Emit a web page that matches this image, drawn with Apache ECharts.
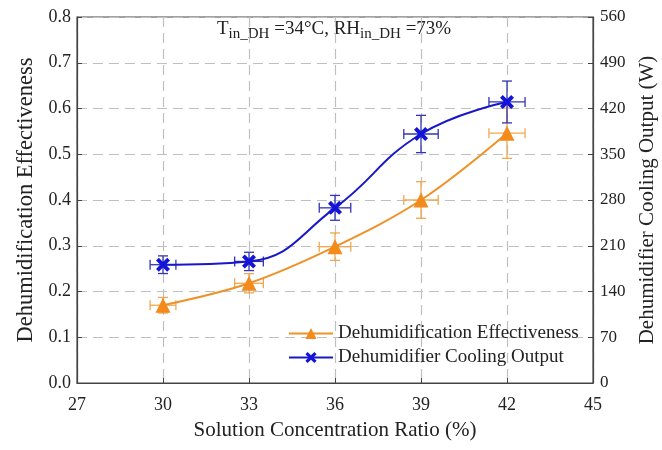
<!DOCTYPE html>
<html>
<head>
<meta charset="utf-8">
<script src="https://cdn.jsdelivr.net/npm/echarts@6/dist/echarts.min.js"></script>
<style>
  html, body { margin: 0; padding: 0; background: #fff; }
  #chart { width: 662px; height: 450px; }
</style>
</head>
<body>
<div id="chart"></div>
<script>
// solution concentration ratio (%)
const conc = [30, 33, 36, 39, 42]
const effectiveness = [0.170, 0.218, 0.298, 0.400, 0.546]
const coolingOutput = [181, 186, 268, 381, 430]
// error bars
const concErr = [0.45, 0.5, 0.55, 0.6, 0.63]
const effErr = [0.017, 0.021, 0.03, 0.04, 0.055]
const coolErr = [13.5, 14, 19, 28.5, 32]

const xTicks = [27, 30, 33, 36, 39, 42, 45]
const leftTicks = [0, 0.1, 0.2, 0.3, 0.4, 0.5, 0.6, 0.7, 0.8]
const rightTicks = [0, 70, 140, 210, 280, 350, 420, 490, 560]

const font = 'Liberation Serif'
const orange = '#F28A1C'
const blue = '#1414D8'
const crossPath = 'path://M0,2 L2,0 L5,3 L8,0 L10,2 L7,5 L10,8 L8,10 L5,7 L2,10 L0,8 L3,5 Z'

function errorBars(color) {
  return function (params, api) {
    const x = api.value(0)
    const y = api.value(1)
    const xe = api.value(2)
    const ye = api.value(3)
    const l = api.coord([x - xe, y])
    const r = api.coord([x + xe, y])
    const t = api.coord([x, y + ye])
    const b = api.coord([x, y - ye])
    const c = 5
    const style = { stroke: color, lineWidth: 1.3, fill: null }
    const seg = (x1, y1, x2, y2) => ({ type: 'line', shape: { x1, y1, x2, y2 }, style })
    return {
      type: 'group',
      children: [
        seg(l[0], l[1], r[0], r[1]),
        seg(t[0], t[1], b[0], b[1]),
        seg(l[0], l[1] - c, l[0], l[1] + c),
        seg(r[0], r[1] - c, r[0], r[1] + c),
        seg(t[0] - c, t[1], t[0] + c, t[1]),
        seg(b[0] - c, b[1], b[0] + c, b[1])
      ]
    }
  }
}

const chart = echarts.init(document.getElementById('chart'))
chart.setOption({
  animation: false,
  backgroundColor: '#fff',
  textStyle: { fontFamily: font },
  grid: {
    left: 77, right: 69, top: 17, bottom: 67,
    outerBoundsMode: 'none',
    containLabel: false,
    show: true, borderColor: '#444', borderWidth: 1.2, backgroundColor: 'transparent'
  },
  graphic: [{
    type: 'text',
    left: 217,
    top: 20,
    style: {
      text: 'T{s|in_DH} =34°C, RH{s|in_DH} =73%',
      fontFamily: font,
      fontSize: 19,
      fill: '#222',
      rich: {
        s: { fontFamily: font, fontSize: 15, fill: '#222', padding: [10, 0, 0, 0] }
      }
    }
  }],
  legend: {
    data: ['Dehumidification Effectiveness', 'Dehumidifier Cooling Output'],
    orient: 'vertical',
    left: 283,
    top: 319,
    itemWidth: 44,
    itemHeight: 14,
    itemGap: 5,
    textStyle: { fontFamily: font, fontSize: 19, color: '#222' }
  },
  xAxis: {
    type: 'value',
    min: 27, max: 45, interval: 3,
    name: 'Solution Concentration Ratio (%)',
    nameLocation: 'middle',
    nameGap: 37,
    nameTextStyle: { fontFamily: font, fontSize: 21, color: '#222' },
    axisLine: { lineStyle: { color: '#444', width: 1.2 } },
    axisTick: { inside: true, length: 5, lineStyle: { color: '#444' } },
    axisLabel: { fontFamily: font, fontSize: 18, color: '#222', margin: 13,
      formatter: v => xTicks.includes(v) ? String(v) : '' },
    splitLine: { show: true, lineStyle: { color: '#c0c0c0', type: [10, 6], width: 1.2 } }
  },
  yAxis: [{
    type: 'value',
    min: 0, max: 0.8, interval: 0.1,
    name: 'Dehumidification Effectiveness',
    nameLocation: 'middle',
    nameGap: 33,
    nameRotate: 90,
    nameTextStyle: { fontFamily: font, fontSize: 22.5, color: '#222' },
    axisLine: { show: true, lineStyle: { color: '#444', width: 1.2 } },
    axisTick: { show: true, inside: true, length: 5, lineStyle: { color: '#444' } },
    axisLabel: { fontFamily: font, fontSize: 18, color: '#222', margin: 6,
      formatter: v => leftTicks.some(t => Math.abs(t - v) < 1e-9) ? v.toFixed(1) : '' },
    splitLine: { show: true, lineStyle: { color: '#c0c0c0', type: [10, 6], width: 1.2 } }
  }, {
    type: 'value',
    position: 'right',
    min: 0, max: 560, interval: 70,
    name: 'Dehumidifier Cooling Output (W)',
    nameLocation: 'middle',
    nameGap: 44,
    nameRotate: 90,
    nameTextStyle: { fontFamily: font, fontSize: 21, color: '#222' },
    axisLine: { show: true, lineStyle: { color: '#444', width: 1.2 } },
    axisTick: { show: true, inside: true, length: 5, lineStyle: { color: '#444' } },
    axisLabel: { fontFamily: font, fontSize: 17, color: '#222', margin: 7,
      formatter: v => rightTicks.includes(v) ? String(v) : '' },
    splitLine: { show: false }
  }],
  series: [
    {
      type: 'custom',
      name: 'effErr',
      yAxisIndex: 0,
      renderItem: errorBars('#F0A850'),
      data: conc.map((c, i) => [c, effectiveness[i], concErr[i], effErr[i]]),
      z: 2
    },
    {
      type: 'custom',
      name: 'coolErr',
      yAxisIndex: 1,
      renderItem: errorBars('#3434B4'),
      data: conc.map((c, i) => [c, coolingOutput[i], concErr[i], coolErr[i]]),
      z: 2
    },
    {
      type: 'line',
      name: 'Dehumidification Effectiveness',
      yAxisIndex: 0,
      smooth: 0.35,
      symbol: 'triangle',
      symbolSize: 15,
      itemStyle: { color: orange },
      lineStyle: { color: '#EE9228', width: 2 },
      data: conc.map((c, i) => [c, effectiveness[i]]),
      z: 3
    },
    {
      type: 'line',
      name: 'Dehumidifier Cooling Output',
      yAxisIndex: 1,
      smooth: 0.45,
      symbol: crossPath,
      symbolSize: 14,
      itemStyle: { color: blue },
      lineStyle: { color: '#1818C8', width: 2 },
      data: conc.map((c, i) => [c, coolingOutput[i]]),
      z: 4
    }
  ]
})
</script>
</body>
</html>
